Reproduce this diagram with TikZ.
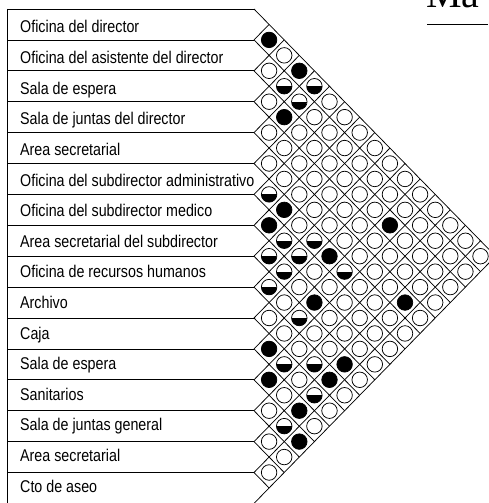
\documentclass[tikz,border=0pt]{standalone}
\usepackage{fontspec}
\setmainfont{Liberation Sans}
\newfontfamily\titlefont{Liberation Serif}
\usepackage{graphicx}
\begin{document}
\begin{tikzpicture}[x=1pt,y=-1pt,
  gridline/.style={line width=0.75pt, black},
  cellO/.style={circle, draw=black, line width=0.75pt, minimum size=15.5pt, inner sep=0pt, fill=white},
  cellB/.style={cellO, fill=black},
  cellH/.style={cellO, path picture={\fill[black] (path picture bounding box.west) rectangle (path picture bounding box.south east);}},
  lbl/.style={anchor=base west, inner sep=0pt, font=\fontsize{17}{20}\selectfont}
]
\useasboundingbox (0,0) rectangle (488,503);
\def\T{9}
\def\H{30.9}
\def\X{254}
\def\S{15.1}
% label box
\draw[gridline] (7.5,\T) -- (7.5,{\T+16*\H});
\foreach \m in {0,...,16} {
  \draw[gridline] (7.5,{\T+\m*\H}) -- (\X,{\T+\m*\H});
}
% diamond grid
\foreach \m in {1,...,16} {
  \draw[gridline] (\X,{\T+\m*\H}) -- ({\X+\m*\S},{\T+\m*\H/2});
}
\foreach \m in {0,...,15} {
  \draw[gridline] (\X,{\T+\m*\H}) -- ({\X+(16-\m)*\S},{\T+(8+\m/2)*\H});
}
% labels
\foreach \i/\t in {1/Oficina del director,
  2/Oficina del asistente del director,
  3/Sala de espera,
  4/Sala de juntas del director,
  5/Area secretarial,
  6/Oficina del subdirector administrativo,
  7/Oficina del subdirector medico,
  8/Area secretarial del subdirector,
  9/Oficina de recursos humanos,
  10/Archivo,
  11/Caja,
  12/Sala de espera,
  13/Sanitarios,
  14/Sala de juntas general,
  15/Area secretarial,
  16/Cto de aseo} {
  \node[lbl] (r\i) at (20,{33+(\i-1)*30.6}) {\scalebox{0.84}[1]{\t}};
}
% strong relations
\foreach \i/\j in {1/2,1/4,3/5,6/8,7/8,3/12,6/11,8/12,5/15,11/12,9/15,12/13,10/15,12/15,13/16} {
  \expandafter\gdef\csname ty@\i-\j\endcsname{}
  \node[cellB] (c-\i-\j) at ({\X+(\j-\i)*\S},{\T+(\i+\j-1)*\H/2}) {};
}
% medium relations
\foreach \i/\j in {2/4,1/5,2/5,6/7,7/9,6/10,8/9,7/10,8/10,6/12,9/10,9/12,11/13,10/14,11/15,13/15} {
  \expandafter\gdef\csname ty@\i-\j\endcsname{}
  \node[cellH] (c-\i-\j) at ({\X+(\j-\i)*\S},{\T+(\i+\j-1)*\H/2}) {};
}
% remaining cells
\foreach \i in {1,...,15} {
  \pgfmathtruncatemacro\jmin{\i+1}
  \foreach \j in {\jmin,...,16} {
    \ifcsname ty@\i-\j\endcsname\else
      \node[cellO] (c-\i-\j) at ({\X+(\j-\i)*\S},{\T+(\i+\j-1)*\H/2}) {};
    \fi
  }
}
% title fragment
\begin{scope}
  \clip (0,0) rectangle (488,503);
  \node[anchor=base west, inner sep=0pt, font=\titlefont\fontsize{40}{40}\selectfont] (title) at (426,7.5) {Ma};
  \coordinate (tl) at (427,24);
  \coordinate (tr) at (488,24);
  \draw[line width=0.9pt] (tl) -- (tr);
\end{scope}
\end{tikzpicture}
\end{document}
